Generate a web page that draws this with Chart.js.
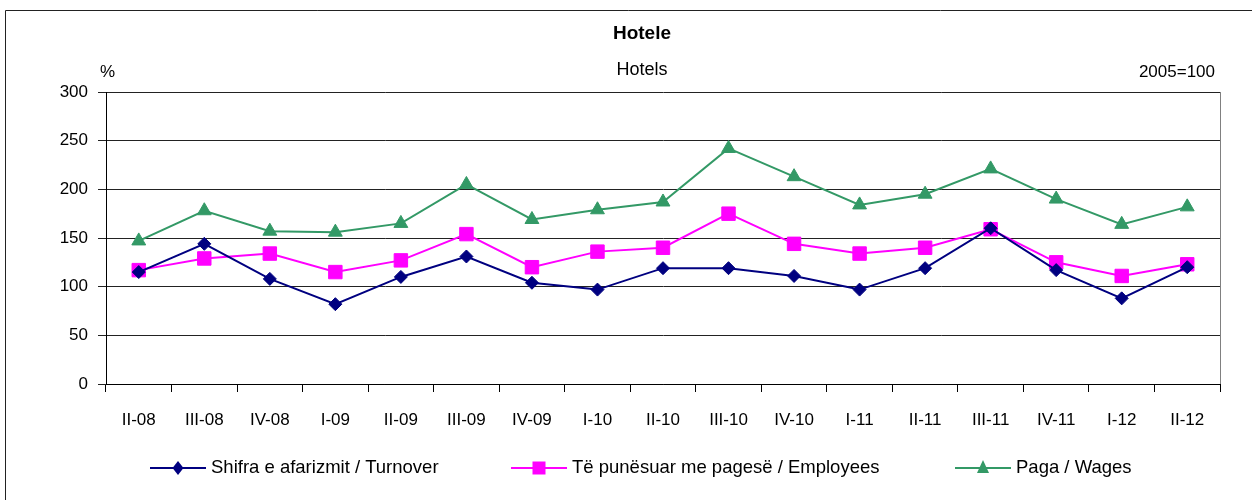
<!DOCTYPE html>
<html>
<head>
<meta charset="utf-8">
<title>Hotele</title>
<script src="https://cdn.jsdelivr.net/npm/chart.js@4/dist/chart.umd.min.js"></script>
<style>
  html, body { margin: 0; padding: 0; background: #fff; }
  canvas { display: block; }
</style>
</head>
<body>
<canvas id="hotelsChart" width="1252" height="500"></canvas>
<script>
// Data (index 2005=100)
const quarters = ['II-08', 'III-08', 'IV-08', 'I-09', 'II-09', 'III-09', 'IV-09', 'I-10', 'II-10',
  'III-10', 'IV-10', 'I-11', 'II-11', 'III-11', 'IV-11', 'I-12', 'II-12'];
const turnover = [115, 144, 108, 82, 110, 131, 104, 97, 119, 119, 111, 97, 119, 160, 117, 88, 120];
const employees = [117, 129, 134, 115, 127, 154, 120, 136, 140, 175, 144, 134, 140, 159, 125, 111, 123];
const wages = [147, 178, 157, 156, 165, 205, 169, 179, 187, 242, 213, 184, 195, 221, 190, 164, 182];
const yTicks = [0, 50, 100, 150, 200, 250, 300];

const seriesNames = ['Shifra e afarizmit / Turnover', 'Të punësuar me pagesë / Employees', 'Paga / Wages'];
const FONT = "'Liberation Sans', Arial, sans-serif";

// Frame, titles, plot border and legend
const decorations = {
  id: 'decorations',
  beforeDraw(chart) {
    const ctx = chart.ctx;
    ctx.save();
    ctx.fillStyle = '#fff';
    ctx.fillRect(0, 0, chart.width, chart.height);
    ctx.strokeStyle = '#222';
    ctx.lineWidth = 1;
    ctx.beginPath();
    ctx.moveTo(5.5, chart.height);
    ctx.lineTo(5.5, 10.5);
    ctx.lineTo(chart.width, 10.5);
    ctx.stroke();
    ctx.restore();
  },
  afterDraw(chart) {
    const ctx = chart.ctx;
    const area = chart.chartArea;
    ctx.save();

    // right border of the plot
    ctx.strokeStyle = '#808080';
    ctx.lineWidth = 1;
    ctx.beginPath();
    ctx.moveTo(area.right + 0.5, area.top);
    ctx.lineTo(area.right + 0.5, area.bottom);
    ctx.stroke();

    // titles
    ctx.fillStyle = '#000';
    ctx.textBaseline = 'middle';
    ctx.textAlign = 'center';
    ctx.font = 'bold 19px ' + FONT;
    ctx.fillText('Hotele', 642, 34);
    ctx.font = '18px ' + FONT;
    ctx.fillText('Hotels', 642, 70);
    ctx.textAlign = 'left';
    ctx.font = '17px ' + FONT;
    ctx.fillText('%', 100, 72);
    ctx.textAlign = 'right';
    ctx.fillText('2005=100', area.right - 5, 72);

    // legend
    const starts = [150, 511, 955];
    const y = 468;
    ctx.font = '18.5px ' + FONT;
    ctx.textAlign = 'left';
    chart.data.datasets.forEach((ds, i) => {
      const x0 = starts[i];
      const cx = x0 + 28;
      ctx.strokeStyle = ds.borderColor;
      ctx.lineWidth = 2;
      ctx.beginPath();
      ctx.moveTo(x0, y);
      ctx.lineTo(x0 + 56, y);
      ctx.stroke();
      ctx.fillStyle = ds.backgroundColor;
      ctx.beginPath();
      if (ds.pointStyle === 'rectRot') {
        ctx.moveTo(cx, y - 7); ctx.lineTo(cx + 5.5, y); ctx.lineTo(cx, y + 7); ctx.lineTo(cx - 5.5, y);
      } else if (ds.pointStyle === 'rect') {
        ctx.rect(cx - 6.5, y - 6.5, 13, 13);
      } else {
        ctx.moveTo(cx, y - 8); ctx.lineTo(cx + 6, y + 5); ctx.lineTo(cx - 6, y + 5);
      }
      ctx.closePath();
      ctx.fill();
      ctx.fillStyle = '#000';
      ctx.fillText(ds.label, x0 + 61, y);
    });
    ctx.restore();
  }
};

const ctx = document.getElementById('hotelsChart').getContext('2d');
const hotelsChart = new Chart(ctx, {
  type: 'line',
  data: {
    labels: quarters,
    datasets: [{
      label: seriesNames[0],
      data: turnover,
      borderColor: '#000080',
      backgroundColor: '#000080',
      borderWidth: 2,
      pointStyle: 'rectRot',
      pointRadius: 6.5,
      pointBorderWidth: 1,
      tension: 0
    }, {
      label: seriesNames[1],
      data: employees,
      borderColor: '#FF00FF',
      backgroundColor: '#FF00FF',
      borderWidth: 2,
      pointStyle: 'rect',
      pointRadius: 9.5,
      pointBorderWidth: 1,
      tension: 0
    }, {
      label: seriesNames[2],
      data: wages,
      borderColor: '#339966',
      backgroundColor: '#339966',
      borderWidth: 2,
      pointStyle: 'triangle',
      pointRadius: 8,
      pointBorderWidth: 1,
      tension: 0
    }]
  },
  options: {
    responsive: false,
    animation: false,
    events: [],
    layout: {
      padding: { left: 0, right: 32, top: 92, bottom: 56 }
    },
    plugins: {
      legend: { display: false },
      title: { display: false },
      tooltip: { enabled: false }
    },
    scales: {
      x: {
        offset: true,
        afterFit(scale) { scale.height = 60; },
        grid: {
          offset: true,
          drawOnChartArea: false,
          drawTicks: true,
          tickLength: 8,
          color: '#000'
        },
        border: { color: '#000', width: 1 },
        ticks: {
          color: '#000',
          padding: 18,
          maxRotation: 0,
          autoSkip: false,
          font: { family: FONT, size: 17 }
        }
      },
      y: {
        min: yTicks[0],
        max: yTicks[yTicks.length - 1],
        afterFit(scale) { scale.width = 106; },
        afterBuildTicks(scale) { scale.ticks = yTicks.map(v => ({ value: v })); },
        grid: {
          color: '#222',
          lineWidth: 1,
          drawTicks: true,
          tickLength: 8
        },
        border: { color: '#000', width: 1 },
        ticks: {
          color: '#000',
          padding: 10,
          font: { family: FONT, size: 17 }
        }
      }
    }
  },
  plugins: [decorations]
});
</script>
</body>
</html>
